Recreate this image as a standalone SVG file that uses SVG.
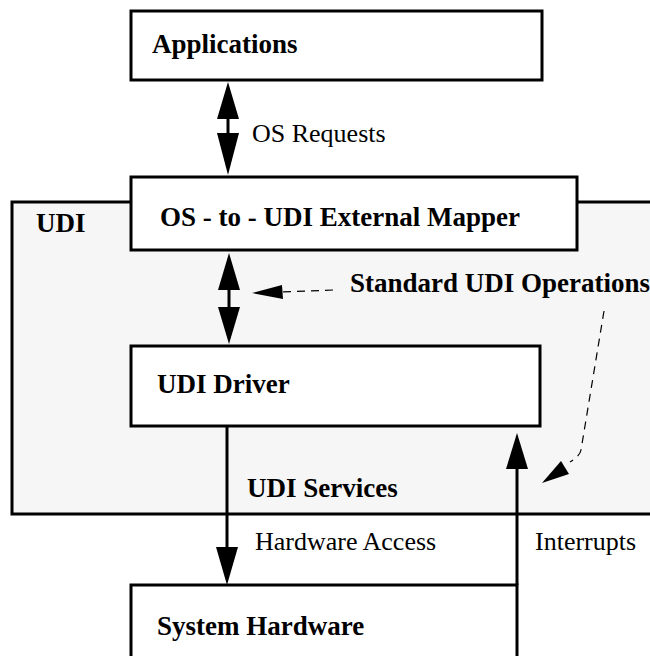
<svg xmlns="http://www.w3.org/2000/svg" width="650" height="656" viewBox="0 0 650 656">
<defs>
<style>
.box{fill:#fff;stroke:#000;stroke-width:3}
.b{font-family:"Liberation Serif","Times New Roman",serif;font-weight:bold;font-size:27px;fill:#000}
.n{font-family:"Liberation Serif","Times New Roman",serif;font-size:26px;fill:#000}
.ln{stroke:#000;stroke-width:3;fill:none}
.dash{stroke:#000;stroke-width:1.2;fill:none;stroke-dasharray:8,6}
</style>
</defs>
<g id="udi">
<rect x="12" y="202" width="650" height="312" fill="#f6f6f6" stroke="#000" stroke-width="3"/>
<text class="b" x="36" y="232">UDI</text>
</g>
<g id="applications">
<rect class="box" x="131" y="11" width="411" height="69"/>
<text class="b" x="152" y="53">Applications</text>
</g>
<g id="mapper">
<rect class="box" x="131" y="177" width="446" height="73"/>
<text class="b" x="160" y="226">OS - to - UDI External Mapper</text>
</g>
<g id="driver">
<rect class="box" x="131" y="346" width="409" height="80"/>
<text class="b" x="157" y="393">UDI Driver</text>
</g>
<g id="hardware">
<rect class="box" x="131" y="585" width="386" height="80"/>
<text class="b" x="157" y="635">System Hardware</text>
</g>
<g id="connectors">
<line class="ln" x1="228" y1="110" x2="228" y2="140"/>
<polygon points="228,82 217,119 239,119"/>
<polygon points="228,175 217,133 239,133"/>
<text class="n" x="252" y="142">OS Requests</text>
<line class="ln" x1="229" y1="280" x2="229" y2="312"/>
<polygon points="229,253 218,290 240,290"/>
<polygon points="229,344 218,307 240,307"/>
<line class="ln" x1="227" y1="426" x2="227" y2="550"/>
<polygon points="227,585 216,547 238,547"/>
<text class="n" x="255" y="550">Hardware Access</text>
<line class="ln" x1="517" y1="465" x2="517" y2="585"/>
<polygon points="517,433 506,469 528,469"/>
<text class="n" x="535" y="550">Interrupts</text>
<text class="b" x="247" y="497">UDI Services</text>
<text class="b" x="350" y="292">Standard UDI Operations</text>
<line class="dash" x1="333" y1="290" x2="282" y2="292"/>
<polygon points="252,293 282,285 283,299"/>
<path class="dash" d="M604,311 L581,450 Q580,456 570,462"/>
<polygon points="542,483 561,461 569,474"/>
</g>
</svg>
